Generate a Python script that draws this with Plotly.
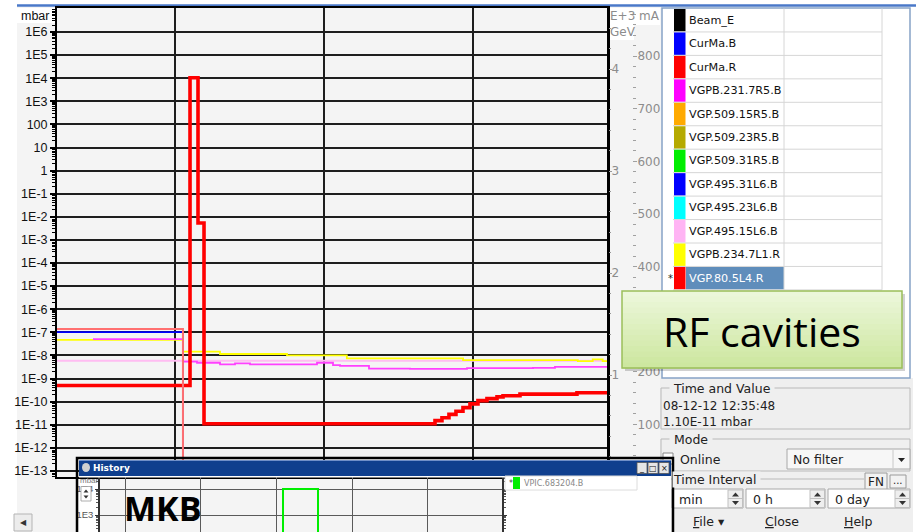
import plotly.graph_objects as go

W, H = 916, 532

# ---------------- data (time in minutes, pressure in mbar) ----------------
t_vgp80_5l4_r = [6.24, 33.02, 34.63, 35.84, 82.35, 83.75, 85.16, 86.57, 87.98, 89.39,
                 91.0, 92.81, 94.83, 96.04, 99.46, 110.93, 117.18]
p_vgp80_5l4_r = [5.0e-10, 1.05e4, 5.4e-3, 1.1e-11, 1.5e-11, 2.0e-11, 2.8e-11, 3.8e-11,
                 5.5e-11, 8.0e-11, 1.1e-10, 1.35e-10, 1.6e-10, 1.8e-10, 2.1e-10, 2.4e-10, 2.4e-10]

t_vgpb_234_7l1_r = [6.24, 31.6, 39.06, 52.55, 64.6, 88.0, 111.1, 114.1, 116.1, 117.18]
p_vgpb_234_7l1_r = [4.7e-8, 1.45e-8, 1.15e-8, 1.0e-8, 7.4e-9, 6.3e-9, 5.7e-9, 6.7e-9, 5.7e-9, 5.7e-9]

t_vgpb_231_7r5_b = [13.49, 31.6, 34.43, 39.06, 42.08, 45.1, 58.59, 61.81, 63.22, 69.06,
                    77.31, 88.79, 102.08, 106.5, 117.18]
p_vgpb_231_7r5_b = [5.1e-8, 5.4e-9, 4.8e-9, 4.1e-9, 4.5e-9, 4.1e-9, 4.8e-9, 3.8e-9, 3.5e-9,
                    2.7e-9, 2.6e-9, 2.8e-9, 2.9e-9, 3.2e-9, 3.2e-9]

t_vgp495_15l6_b = [6.24, 117.18]
p_vgp495_15l6_b = [5.9e-9, 5.9e-9]

t_curma = [6.24, 31.6, 117.18]
i_curma_r = [1.45, 0.0, 0.0]   # E+3 mA
i_curma_b = [1.42, 0.0, 0.0]   # E+3 mA

# Beam_E has no visible samples in this time window
t_beam_e = []
e_beam_e = []

cursor_time = 43.49
threshold_level = 5e-12
time_range = [6.24, 117.18]
time_grid = [30, 60, 90]

left_tick_vals = [1e6, 1e5, 1e4, 1e3, 1e2, 1e1, 1e0, 1e-1, 1e-2, 1e-3, 1e-4, 1e-5, 1e-6,
                  1e-7, 1e-8, 1e-9, 1e-10, 1e-11, 1e-12, 1e-13]
left_tick_text = ["1E6", "1E5", "1E4", "1E3", "100", "10", "1", "1E-1", "1E-2", "1E-3",
                  "1E-4", "1E-5", "1E-6", "1E-7", "1E-8", "1E-9", "1E-10", "1E-11",
                  "1E-12", "1E-13"]
ma_tick_vals = [1, 2, 3, 4]
gev_tick_vals = [100, 200, 300, 400, 500, 600, 700, 800]

legend_names = ["Beam_E", "CurMa.B", "CurMa.R", "VGPB.231.7R5.B", "VGP.509.15R5.B",
                "VGP.509.23R5.B", "VGP.509.31R5.B", "VGP.495.31L6.B", "VGP.495.23L6.B",
                "VGP.495.15L6.B", "VGPB.234.7L1.R", "VGP.80.5L4.R"]
legend_colors = ["#000000", "#0000ff", "#ff0000", "#ff00ff", "#ffaa00", "#b5aa00",
                 "#00ee00", "#0000ff", "#00ffff", "#ffb4f4", "#ffff00", "#ff0000"]
selected_name = "VGP.80.5L4.R"

# History inset
t_vpic = [6.7, 30.86, 35.48, 59.77]
p_vpic = [1e-9, 1e4, 1e-9, 1e-9]
hist_time_range = [6.7, 59.77]
hist_time_grid = [10, 20, 30, 40, 50]
hist_cursor_time = 28.88
hist_tick_vals = [1e3, 1e4]
hist_tick_text = ["1E3", "1E4"]

minor_log = [k * 10.0 ** e for e in range(-14, 8) for k in range(2, 10)]


# ---------------- helpers ----------------
def X(p):
    return p / W


def Y(p):
    return 1 - p / H


shapes = []
annotations = []


def rect(x0, y0, x1, y1, fill=None, line=None, lw=1, layer="above"):
    shapes.append(dict(type="rect", xref="paper", yref="paper", x0=X(x0), x1=X(x1),
                       y0=Y(y1), y1=Y(y0), fillcolor=fill or "rgba(0,0,0,0)",
                       line=dict(color=line or "rgba(0,0,0,0)", width=lw if line else 0),
                       layer=layer))


def hline(x0, x1, y, color, lw=1, layer="above"):
    shapes.append(dict(type="line", xref="paper", yref="paper", x0=X(x0), x1=X(x1),
                       y0=Y(y), y1=Y(y), line=dict(color=color, width=lw), layer=layer))


def vline(x, y0, y1, color, lw=1, layer="above"):
    shapes.append(dict(type="line", xref="paper", yref="paper", x0=X(x), x1=X(x),
                       y0=Y(y0), y1=Y(y1), line=dict(color=color, width=lw), layer=layer))


def tri(cx, cy, up=True, s=2.5, color="#333333", layer="above"):
    if up:
        pts = [(cx - s, cy + s * 0.6), (cx + s, cy + s * 0.6), (cx, cy - s * 0.6)]
    else:
        pts = [(cx - s, cy - s * 0.6), (cx + s, cy - s * 0.6), (cx, cy + s * 0.6)]
    path = "M " + " L ".join("%.5f,%.5f" % (X(a), Y(b)) for a, b in pts) + " Z"
    shapes.append(dict(type="path", xref="paper", yref="paper", path=path,
                       fillcolor=color, line=dict(width=0), layer=layer))


def text(x, y, s, size=12, color="#111111", family="DejaVu Sans", anchor="left",
         bold=False, bg=None, yanchor="middle"):
    if bold:
        s = "<b>" + s + "</b>"
    a = dict(x=X(x), y=Y(y), xref="paper", yref="paper", text=s, showarrow=False,
             xanchor=anchor, yanchor=yanchor, borderpad=0,
             font=dict(size=size, color=color, family=family))
    if bg:
        a["bgcolor"] = bg
    annotations.append(a)


# ---------------- figure ----------------
fig = go.Figure()

fig.add_trace(go.Scatter(x=t_beam_e, y=e_beam_e, yaxis="y3", mode="lines",
                         line=dict(color="#000000", width=1.5, shape="hv"), name="Beam_E"))
fig.add_trace(go.Scatter(x=t_vgp495_15l6_b, y=p_vgp495_15l6_b, mode="lines",
                         line=dict(color="#ffbdf2", width=2, shape="hv"), name="VGP.495.15L6.B"))
fig.add_trace(go.Scatter(x=t_curma, y=i_curma_b, yaxis="y2", mode="lines",
                         line=dict(color="#0000ff", width=1.6, shape="hv"), name="CurMa.B"))
fig.add_trace(go.Scatter(x=t_curma, y=i_curma_r, yaxis="y2", mode="lines",
                         line=dict(color="#ff7070", width=2, shape="hv"), name="CurMa.R"))
fig.add_trace(go.Scatter(x=t_vgpb_234_7l1_r, y=p_vgpb_234_7l1_r, mode="lines",
                         line=dict(color="#ffff00", width=1.8, shape="hv"), name="VGPB.234.7L1.R"))
fig.add_trace(go.Scatter(x=t_vgpb_231_7r5_b, y=p_vgpb_231_7r5_b, mode="lines",
                         line=dict(color="#ff40ff", width=1.8, shape="hv"), name="VGPB.231.7R5.B"))
fig.add_trace(go.Scatter(x=t_vgp80_5l4_r, y=p_vgp80_5l4_r, mode="lines",
                         line=dict(color="#ff0000", width=3.6, shape="hv"), name="VGP.80.5L4.R"))
# history inset trace
fig.add_trace(go.Scatter(x=t_vpic, y=p_vpic, xaxis="x2", yaxis="y4", mode="lines",
                         line=dict(color="#00ee00", width=2, shape="hv"), name="VPIC.683204.B"))

# cursor and threshold in the main chart
shapes.append(dict(type="line", xref="x", yref="paper", x0=cursor_time, x1=cursor_time,
                   y0=Y(477), y1=Y(8), line=dict(color="#ff00ff", width=1), layer="between"))
shapes.append(dict(type="line", xref="paper", yref="y", x0=X(57), x1=X(608),
                   y0=threshold_level, y1=threshold_level,
                   line=dict(color="#1a1a1a", width=1.5), layer="between"))
# cursor in history inset
shapes.append(dict(type="line", xref="x2", yref="paper", x0=hist_cursor_time,
                   x1=hist_cursor_time, y0=0, y1=Y(477),
                   line=dict(color="#ff9cff", width=1.5), layer="between"))

# ---------- background panels (below) ----------
rect(17, 7, 662, 532, fill="#f4f4f4", layer="below")
rect(17, 8, 55, 23, fill="#ffffff", layer="below")
rect(609, 8, 660, 25, fill="#ffffff", layer="below")
rect(609, 25, 634, 40, fill="#ffffff", layer="below")
rect(660, 378, 913, 532, fill="#efefef", layer="below")
hline(17, 916, 5.5, "#4a78c8", 2.5, layer="below")

text(20, 15.5, "mbar", size=12.5, color="#111111", family="Liberation Sans")
text(609, 15.5, "E+3 mA", size=12, color="#8c8c8c")
text(609, 32, "GeV", size=12, color="#8c8c8c")

# ---------- legend table ----------
rect(662, 8, 910, 378, fill="#ffffff", line="#86a3c6", lw=1.5, layer="below")
row_top, row_h = 8.5, 23.45
for i, (nm, col) in enumerate(zip(legend_names, legend_colors)):
    top = row_top + i * row_h
    if nm == selected_name:
        rect(686, top + 0.5, 784, top + row_h - 0.5, fill="#5f8dbb", layer="below")
        text(667, top + row_h / 2, "*", size=10, color="#222222")
    rect(674, top + 0.5, 685.5, top + row_h - 0.5, fill=col, layer="below")
    text(688, top + row_h / 2, nm, size=11.2,
         color="#ffffff" if nm == selected_name else "#111111")
    hline(673, 882, top + row_h, "#d6d6d6", 1, layer="below")
vline(784, 8.5, row_top + len(legend_names) * row_h, "#d6d6d6", 1, layer="below")
vline(882, 8.5, row_top + len(legend_names) * row_h, "#d6d6d6", 1, layer="below")

# ---------- controls ----------
ctl = "#222222"
rect(661, 388, 910, 429, line="#b9b9b9", lw=1, layer="below")
text(669, 388, " Time and Value ", size=12.5, color=ctl, bg="#efefef")
text(662, 406, "08-12-12 12:35:48", size=12, color=ctl)
text(662, 422, "1.10E-11 mbar", size=12, color=ctl)
rect(661, 439, 910, 471, line="#b9b9b9", lw=1, layer="below")
text(669, 439, " Mode ", size=12.5, color=ctl, bg="#efefef")
rect(663, 453, 673, 464, fill="#ffffff", line="#888888", lw=1, layer="below")
text(679, 459, "Online", size=12.5, color=ctl)
rect(787, 449, 910, 469, fill="#f7f7f7", line="#a8a8a8", lw=1, layer="below")
vline(893, 450, 468, "#c8c8c8", 1, layer="below")
text(792, 459, "No filter", size=12.5, color=ctl)
tri(901.5, 460, up=False, s=3.5, color=ctl, layer="below")
hline(661, 864, 479, "#b9b9b9", 1, layer="below")
text(672, 479, "Time Interval ", size=12.5, color=ctl, bg="#efefef")
rect(865, 473, 887, 490, fill="#f2f2f2", line="#9a9a9a", lw=1, layer="below")
text(876, 481.5, "FN", size=12, color=ctl, anchor="center")
rect(890, 475, 906, 488, fill="#f2f2f2", line="#9a9a9a", lw=1, layer="below")
text(898, 480, "...", size=10, color=ctl, anchor="center")
for (bx0, bx1, ax0, label) in [(672, 743, 728, "min"), (746, 825, 810, "0 h"),
                                (828, 910, 895, "0 day")]:
    rect(bx0, 489, bx1, 508, fill="#ffffff", line="#a8a8a8", lw=1, layer="below")
    rect(ax0, 490, bx1 - 0.5, 507.5, fill="#eeeeee", line="#c0c0c0", lw=1, layer="below")
    hline(ax0, bx1 - 0.5, 498.5, "#c0c0c0", 1, layer="below")
    tri((ax0 + bx1) / 2, 494.5, up=True, s=3.5, layer="below")
    tri((ax0 + bx1) / 2, 503, up=False, s=3.5, layer="below")
    text(bx0 + 6, 499, label, size=12.5, color=ctl)
text(692, 521, '<span style="text-decoration:underline">F</span>ile ▾', size=12.5, color=ctl)
text(764, 521, '<span style="text-decoration:underline">C</span>lose', size=12.5, color=ctl)
text(843, 521, '<span style="text-decoration:underline">H</span>elp', size=12.5, color=ctl)

# scroll button bottom-left
rect(14, 514, 32, 531, fill="#ececec", line="#b4b4b4", lw=1, layer="below")
text(23, 522.5, "◀", size=8, color="#333333", anchor="center")

# ---------- History window content backgrounds (outside main plot area -> below) ----------
rect(79, 477, 100, 532, fill="#ffffff", layer="below")
rect(502.5, 477, 671, 532, fill="#ffffff", layer="below")

# ---------- RF cavities callout (above) ----------
rect(625, 294, 905, 371, fill="rgba(0,0,0,0.18)")
n_band = 14
c0, c1 = (236, 247, 218), (205, 231, 160)
for k in range(n_band):
    f = k / (n_band - 1)
    col = "rgb(%d,%d,%d)" % tuple(round(a + (b - a) * f) for a, b in zip(c0, c1))
    y0 = 291 + (368 - 291) * k / n_band
    y1 = 291 + (368 - 291) * (k + 1) / n_band
    rect(622, y0, 902, y1 + 0.6, fill=col)
rect(622, 291, 902, 368, line="#9bbf5a", lw=1.5)
text(762, 331, "RF cavities", size=41, color="#000000", family="Open Sans", anchor="center")

# ---------- History window (above, over main plot) ----------
rect(79, 460, 671, 476, fill="#0f3f8e")
hline(79, 671, 460.5, "#6f8fc8", 1)
rect(79, 476, 671, 477.5, fill="#ffffff")
rect(77, 458, 673, 545, line="#000000", lw=2.5)
shapes.append(dict(type="circle", xref="paper", yref="paper", x0=X(82), x1=X(90),
                   y0=Y(472), y1=Y(463), fillcolor="#d0d0d0", line=dict(width=0),
                   layer="above"))
text(92, 468, "History", size=9, color="#ffffff", family="DejaVu Sans", bold=True)
for bx, sym in [(637, "_"), (648, "□"), (659, "×")]:
    rect(bx, 462.5, bx + 10, 473.5, fill="#e6e6e6", line="#555555", lw=0.8)
    text(bx + 5, 468, sym, size=8, color="#111111", anchor="center")
rect(505, 476, 637, 490, fill="#ffffff", line="#dcdcdc", lw=1)
text(508, 483, "*", size=8, color="#444444")
rect(513, 477, 520, 489, fill="#00ee00")
text(523, 483, "VPIC.683204.B", size=8, color="#888888")
text(79, 480.5, "mbar", size=8, color="#777777", family="Liberation Sans")
# spinner widget partly covering the inset's top tick label
rect(81, 486.5, 91, 501, fill="#ffffff", line="#999999", lw=0.8)
tri(86, 491, up=True, s=2.5)
tri(86, 497, up=False, s=2.5)
text(123, 532, "MKB", size=34, color="#000000", family="Open Sans", bold=True,
     yanchor="bottom")

grid_col = "#1e1e1e"
fig.update_layout(
    width=W, height=H, autosize=False,
    margin=dict(l=0, r=0, t=0, b=0, pad=0),
    paper_bgcolor="#ffffff", plot_bgcolor="#ffffff",
    showlegend=False,
    xaxis=dict(domain=[X(57), X(608)], range=time_range, anchor="y",
               tickmode="array", tickvals=time_grid, showticklabels=False, ticks="",
               showgrid=True, gridcolor=grid_col, gridwidth=1.5, zeroline=False,
               showline=True, linecolor="#000000", linewidth=2, mirror=True,
               automargin=False),
    yaxis=dict(domain=[Y(477), Y(8)], type="log", range=[-13.264, 7.039], anchor="x",
               tickmode="array", tickvals=left_tick_vals, ticktext=left_tick_text,
               tickfont=dict(family="Liberation Sans", size=12.5, color="#111111"),
               ticks="outside", ticklen=5, tickwidth=2, tickcolor="#000000",
               minor=dict(tickmode="array", tickvals=minor_log, ticks="outside",
                          ticklen=3, tickwidth=1, tickcolor="#000000", showgrid=False),
               showgrid=True, gridcolor=grid_col, gridwidth=1.5, zeroline=False,
               showline=True, linecolor="#000000", linewidth=2, mirror=True,
               automargin=False),
    yaxis2=dict(overlaying="y", anchor="free", position=X(608), side="right",
                range=[0, 4.598], tickmode="array", tickvals=ma_tick_vals,
                ticks="outside", ticklen=3, tickcolor="#999999", ticklabelstandoff=-3,
                tickfont=dict(family="DejaVu Sans", size=12, color="#8c8c8c"),
                minor=dict(dtick=0.2, ticks="outside", ticklen=2, tickcolor="#999999"),
                showgrid=False, zeroline=False, showline=True, linecolor="#000000",
                linewidth=2, automargin=False),
    yaxis3=dict(overlaying="y", anchor="free", position=X(632), side="right",
                range=[0, 891.6], tickmode="array", tickvals=gev_tick_vals,
                ticks="outside", ticklen=4, tickcolor="#a0a0a0", ticklabelstandoff=-2,
                tickfont=dict(family="DejaVu Sans", size=12, color="#8c8c8c"),
                minor=dict(dtick=20, ticks="outside", ticklen=3, tickcolor="#a0a0a0"),
                showgrid=False, zeroline=False, showline=False, automargin=False),
    xaxis2=dict(domain=[X(100), X(502)], range=hist_time_range, anchor="y4",
                tickmode="array", tickvals=hist_time_grid, showticklabels=False,
                ticks="", showgrid=True, gridcolor="#5a5a5a", gridwidth=1,
                zeroline=False, showline=False, automargin=False),
    yaxis4=dict(domain=[0, Y(477)], type="log", range=[2.346, 4.4615], anchor="x2",
                tickmode="array", tickvals=hist_tick_vals, ticktext=hist_tick_text,
                tickfont=dict(family="Liberation Sans", size=9.5, color="#555555"),
                ticks="outside", ticklen=3, tickcolor="#333333",
                minor=dict(tickmode="array", tickvals=minor_log, ticks="outside",
                           ticklen=2, tickcolor="#555555", showgrid=False),
                showgrid=True, gridcolor="#5a5a5a", gridwidth=1, zeroline=False,
                showline=True, linecolor="#333333", linewidth=1.5, mirror="ticks",
                automargin=False),
    shapes=shapes,
    annotations=annotations,
)

fig.write_html("out.html")
